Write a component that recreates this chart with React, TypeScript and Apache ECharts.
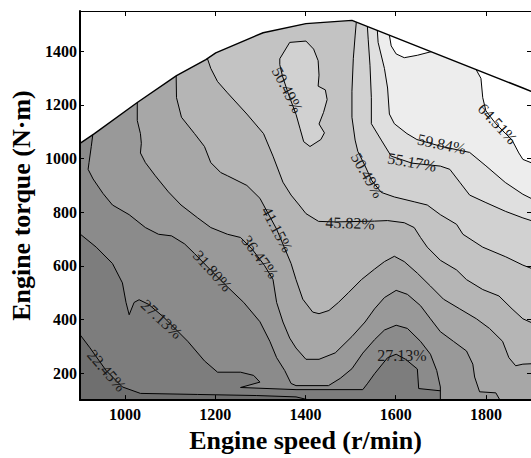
import React, { useEffect, useRef } from "react";
import * as echarts from "echarts";

// ---- axes ----
const speedMin = 900;
const speedMax = 1900;
const torqueMin = 100;
const torqueMax = 1550;

// contour levels (efficiency, %)
const levels = [22.45, 27.13, 31.8, 36.47, 41.15, 45.82, 50.49, 55.17, 59.84, 64.51];

// external characteristic (max torque) curve: [speed r/min, torque N·m]
const maxTorqueCurve = [
  [900, 1057], [932, 1093], [1027, 1209], [1114, 1309], [1179, 1369], [1201, 1394],
  [1306, 1469], [1401, 1503], [1503, 1515], [1882, 1263], [1900, 1251],
];

// contour lines, [speed, torque]
const contour2245 = [
  [895, 355], [922, 295], [958, 210], [994, 149], [1034, 125], [1161, 121], [1292, 117],
  [1379, 112], [1444, 86],
];
const contour2713 = [
  [895, 726], [936, 670], [972, 609], [994, 537], [1002, 464], [1009, 418], [1020, 464],
  [1031, 474], [1052, 457], [1085, 410], [1139, 319], [1176, 246], [1205, 204], [1256, 204],
  [1285, 192], [1299, 167], [1256, 147], [1379, 139], [1527, 139], [1538, 163], [1553, 198],
  [1582, 258], [1601, 271], [1622, 252], [1648, 216], [1651, 143], [1749, 126], [1882, 121],
  [1946, 119],
];
const contour3180 = [
  [930, 1110], [925, 1045], [920, 985], [918, 960], [929, 924], [951, 870], [972, 827],
  [1009, 791], [1045, 743], [1074, 718], [1103, 712], [1132, 682], [1154, 646], [1190, 584],
  [1227, 522], [1263, 464], [1299, 392], [1321, 319], [1336, 258], [1354, 210], [1368, 162],
  [1379, 154], [1451, 154], [1477, 181], [1503, 217], [1527, 275], [1553, 325], [1575, 361],
  [1601, 379], [1626, 367], [1655, 319], [1677, 271], [1691, 210], [1699, 149], [1699, 83],
];
const contour3647 = [
  [1027, 1234], [1027, 1142], [1034, 1093], [1036, 1057], [1034, 1021], [1045, 985],
  [1067, 936], [1096, 876], [1124, 827], [1161, 779], [1190, 743], [1227, 718], [1256, 706],
  [1281, 664], [1309, 602], [1328, 549], [1336, 464], [1350, 391], [1365, 331], [1379, 294],
  [1401, 252], [1430, 252], [1466, 276], [1503, 337], [1532, 391], [1553, 440], [1575, 482],
  [1601, 509], [1626, 494], [1655, 452], [1677, 403], [1699, 355], [1728, 319], [1757, 283],
  [1771, 234], [1775, 186], [1786, 131], [1822, 127], [1837, 83],
];
const contour4115 = [
  [1113, 1328], [1114, 1227], [1125, 1154], [1154, 1093], [1176, 1045], [1190, 985],
  [1212, 948], [1227, 936], [1270, 900], [1299, 852], [1307, 827], [1336, 737], [1368, 609],
  [1379, 549], [1394, 476], [1416, 428], [1430, 422], [1452, 434], [1473, 464], [1495, 500],
  [1524, 549], [1553, 588], [1575, 616], [1597, 636], [1619, 616], [1648, 573], [1677, 525],
  [1706, 476], [1742, 440], [1779, 403], [1808, 367], [1837, 319], [1851, 258], [1866, 228],
  [1882, 234], [1946, 239],
];
const contour4582 = [
  [1179, 1390], [1190, 1336], [1205, 1287], [1227, 1245], [1270, 1166], [1307, 1093],
  [1328, 1009], [1350, 912], [1368, 864], [1386, 827], [1401, 795], [1429, 766], [1466, 764],
  [1553, 767], [1582, 769], [1619, 761], [1641, 743], [1655, 706], [1670, 670], [1699, 621],
  [1735, 585], [1757, 549], [1793, 512], [1829, 488], [1858, 440], [1882, 403], [1946, 355],
];
const island5049 = [
  [1343, 1372], [1365, 1433], [1401, 1438], [1418, 1408], [1428, 1365], [1430, 1311],
  [1428, 1270], [1444, 1256], [1448, 1220], [1440, 1172], [1430, 1129], [1442, 1096],
  [1434, 1071], [1410, 1045], [1396, 1063], [1388, 1111], [1379, 1165], [1362, 1241],
  [1349, 1307], [1343, 1350],
];
const contour5049 = [
  [1514, 1535], [1510, 1457], [1506, 1372], [1503, 1251], [1503, 1154], [1510, 1069],
  [1516, 1027], [1532, 973], [1547, 918], [1568, 874], [1597, 857], [1641, 839], [1670, 827],
  [1699, 791], [1735, 755], [1749, 718], [1793, 670], [1844, 634], [1882, 603], [1946, 562],
];
const contour5517 = [
  [1536, 1525], [1539, 1445], [1543, 1348], [1546, 1227], [1546, 1130], [1568, 1069],
  [1590, 1009], [1636, 983], [1699, 972], [1720, 960], [1742, 912], [1764, 864], [1800, 836],
  [1844, 803], [1882, 779], [1946, 744],
];
const contour5984 = [
  [1558, 1510], [1561, 1433], [1575, 1336], [1582, 1263], [1586, 1166], [1597, 1130],
  [1625, 1093], [1647, 1071], [1702, 1045], [1764, 1023], [1800, 973], [1843, 911],
  [1882, 867], [1946, 813],
];
const contour6451 = [
  [1582, 1499], [1590, 1420], [1601, 1390], [1619, 1376], [1648, 1385], [1680, 1399],
  [1728, 1445], [1765, 1372], [1789, 1299], [1793, 1227], [1800, 1178], [1822, 1130],
  [1858, 1069], [1873, 1021], [1882, 997], [1946, 954],
];

// contour labels
const labelText = ["22.45%", "27.13%", "31.80%", "36.47%", "41.15%", "45.82%", "50.49%", "50.49%", "55.17%", "59.84%", "64.51%", "27.13%"];
const labelSpeed = [959, 1081, 1194, 1299, 1337, 1499, 1360, 1537, 1636, 1702, 1826, 1614];
const labelTorque = [210, 402, 582, 634, 736, 760, 1256, 938, 987, 1054, 1130, 266];
const labelAngle = [-49, -43, -48, -53, -62, -2, -63, -60, -10, -12, -47, 0];

// grey band colours (lowest band -> highest band)
const bandColors = [
  "#6f6f6f", "#7d7d7d", "#8b8b8b", "#999999", "#a7a7a7", "#b5b5b5",
  "#c3c3c3", "#d1d1d1", "#dfdfdf", "#ededed", "#ffffff",
];

const FAR_X = 2100;
const FAR_Y = 1900;

// region on the high-efficiency side of a contour line
function superRegion(line: number[][]) {
  const first = line[0];
  const last = line[line.length - 1];
  return [...line, [FAR_X, last[1]], [FAR_X, FAR_Y], [first[0], FAR_Y]];
}

type Shape = { pts: number[][]; fill: string; stroke: string; lw: number };

const shapes: Shape[] = [
  { pts: [[800, 0], [FAR_X, 0], [FAR_X, FAR_Y], [800, FAR_Y]], fill: bandColors[0], stroke: "none", lw: 0 },
  { pts: superRegion(contour2245), fill: bandColors[1], stroke: "#000", lw: 1 },
  { pts: superRegion(contour2713), fill: bandColors[2], stroke: "#000", lw: 1 },
  { pts: superRegion(contour3180), fill: bandColors[3], stroke: "#000", lw: 1 },
  { pts: superRegion(contour3647), fill: bandColors[4], stroke: "#000", lw: 1 },
  { pts: superRegion(contour4115), fill: bandColors[5], stroke: "#000", lw: 1 },
  { pts: superRegion(contour4582), fill: bandColors[6], stroke: "#000", lw: 1 },
  { pts: island5049, fill: bandColors[7], stroke: "#000", lw: 1 },
  { pts: superRegion(contour5049), fill: bandColors[7], stroke: "#000", lw: 1 },
  { pts: superRegion(contour5517), fill: bandColors[8], stroke: "#000", lw: 1 },
  { pts: superRegion(contour5984), fill: bandColors[9], stroke: "#000", lw: 1 },
  { pts: superRegion(contour6451), fill: bandColors[10], stroke: "#000", lw: 1 },
  {
    pts: [[800, maxTorqueCurve[0][1]], ...maxTorqueCurve, [FAR_X, maxTorqueCurve[maxTorqueCurve.length - 1][1] - 130], [FAR_X, FAR_Y], [800, FAR_Y]],
    fill: "#ffffff",
    stroke: "#000",
    lw: 1.4,
  },
];

const FONT = "'Liberation Serif', 'Times New Roman', serif";

export default function App() {
  const ref = useRef<HTMLDivElement>(null);
  useEffect(() => {
    if (!ref.current) return;
    const chart = echarts.init(ref.current, null, { renderer: "svg" });
    const tickLabel = {
      color: "#000",
      fontFamily: FONT,
      fontWeight: "bold" as const,
      fontSize: 16,
      showMinLabel: false,
      showMaxLabel: false,
      formatter: (v: number) => String(v),
    };
    const nameStyle = { color: "#000", fontFamily: FONT, fontWeight: "bold" as const, fontSize: 26 };
    chart.setOption({
      animation: false,
      backgroundColor: "#ffffff",
      grid: { left: 80, top: 11, right: -8, bottom: 48, show: false },
      xAxis: [
        {
          type: "value", min: speedMin, max: speedMax, splitNumber: 5, position: "bottom", z: 10,
          axisLine: { show: true, onZero: false, lineStyle: { color: "#000", width: 2 } },
          axisTick: { show: true, inside: true, length: 5, lineStyle: { color: "#000", width: 1 } },
          axisLabel: { ...tickLabel, margin: 6 },
          splitLine: { show: false },
          name: "Engine speed (r/min)", nameLocation: "middle", nameGap: 14, nameTextStyle: nameStyle,
        },
        {
          type: "value", min: speedMin, max: speedMax, splitNumber: 5, position: "top", z: 10,
          axisLine: { show: true, onZero: false, lineStyle: { color: "#000", width: 1 } },
          axisTick: { show: true, inside: true, length: 5, lineStyle: { color: "#000", width: 1 } },
          axisLabel: { show: false },
          splitLine: { show: false },
        },
      ],
      yAxis: [
        {
          type: "value", min: torqueMin, max: torqueMax, splitNumber: 7, position: "left", z: 10,
          axisLine: { show: true, onZero: false, lineStyle: { color: "#000", width: 2 } },
          axisTick: { show: true, inside: true, length: 4, lineStyle: { color: "#000", width: 1 } },
          axisLabel: { ...tickLabel, margin: 3 },
          splitLine: { show: false },
          name: "Engine torque (N·m)", nameLocation: "middle", nameGap: 44, nameRotate: 90, nameTextStyle: nameStyle,
        },
        {
          type: "value", min: torqueMin, max: torqueMax, splitNumber: 7, position: "right", z: 10,
          axisLine: { show: true, onZero: false, lineStyle: { color: "#000", width: 1 } },
          axisTick: { show: true, inside: true, length: 4 },
          axisLabel: { show: false },
          splitLine: { show: false },
        },
      ],
      series: [
        {
          type: "custom",
          name: "efficiency bands",
          coordinateSystem: "cartesian2d",
          xAxisIndex: 0,
          yAxisIndex: 0,
          clip: true,
          silent: true,
          z: 1,
          data: shapes.map((_, i) => [1400, 800, i]),
          renderItem: (params: any, api: any) => {
            const s = shapes[params.dataIndex];
            const points = s.pts.map((p) => api.coord(p));
            return {
              type: "polygon",
              shape: { points },
              style: { fill: s.fill, stroke: s.stroke, lineWidth: s.lw, lineJoin: "round" },
            };
          },
        },
        {
          type: "custom",
          name: "contour labels",
          coordinateSystem: "cartesian2d",
          xAxisIndex: 0,
          yAxisIndex: 0,
          silent: true,
          z: 3,
          data: labelText.map((t, i) => [labelSpeed[i], labelTorque[i], i]),
          renderItem: (params: any, api: any) => {
            const i = params.dataIndex;
            const pt = api.coord([labelSpeed[i], labelTorque[i]]);
            return {
              type: "text",
              x: pt[0],
              y: pt[1],
              rotation: (labelAngle[i] * Math.PI) / 180,
              style: {
                text: labelText[i],
                fill: "#1a1a1a",
                fontFamily: FONT,
                fontSize: 16,
                align: "center",
                verticalAlign: "middle",
                textAlign: "center",
                textVerticalAlign: "middle",
              },
            };
          },
        },
      ],
    });
    return () => chart.dispose();
  }, []);
  return (
    <div
      ref={ref}
      style={{ position: "fixed", left: 0, top: 0, width: 531, height: 458, background: "#fff" }}
    />
  );
}
